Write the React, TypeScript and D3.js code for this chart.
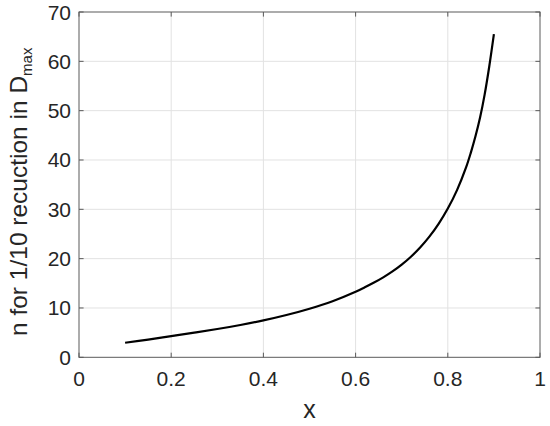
import React from "react";
import * as d3 from "d3";

const xValues = [0.1, 0.15, 0.2, 0.25, 0.3, 0.35, 0.4, 0.45, 0.5, 0.55, 0.6, 0.62, 0.64, 0.66, 0.68, 0.7, 0.72, 0.74, 0.76, 0.78, 0.8, 0.82, 0.84, 0.85, 0.86, 0.87, 0.88, 0.89, 0.9];
const nValues = [2.95, 3.6, 4.3, 5.0, 5.73, 6.55, 7.48, 8.57, 9.85, 11.38, 13.3, 14.2, 15.15, 16.2, 17.4, 18.78, 20.38, 22.25, 24.45, 27.05, 30.15, 33.9, 38.6, 41.5, 44.8, 48.6, 53.3, 59.0, 65.5];
const xTicks = [0, 0.2, 0.4, 0.6, 0.8, 1];
const xTickLabels = ["0", "0.2", "0.4", "0.6", "0.8", "1"];
const yTicks = [0, 10, 20, 30, 40, 50, 60, 70];
const yTickLabels = ["0", "10", "20", "30", "40", "50", "60", "70"];

export default function App() {
  const W = 550, H = 426;
  const left = 79, right = 540, top = 12, bottom = 357.3;
  const x = d3.scaleLinear().domain([0, 1]).range([left, right]);
  const y = d3.scaleLinear().domain([0, 70]).range([bottom, top]);
  const pts = xValues.map((v, i) => [v, nValues[i]] as [number, number]);
  const line = d3.line<[number, number]>().x(d => x(d[0])).y(d => y(d[1])).curve(d3.curveCatmullRom.alpha(0.5));
  const font = "'Liberation Sans', Arial, Helvetica, sans-serif";
  const gridC = "#e2e2e2";
  const axisC = "#5a5a5a";
  const textC = "#262626";
  const tl = 4.6;
  return (
    <svg width={W} height={H} style={{ position: "absolute", left: 0, top: 0, background: "#fff" }} fontFamily={font}>
      <rect x={0} y={0} width={W} height={H} fill="#fff" />
      {xTicks.slice(1, -1).map(t => (
        <line key={"gx" + t} x1={x(t)} x2={x(t)} y1={top} y2={bottom} stroke={gridC} strokeWidth={1} />
      ))}
      {yTicks.slice(1, -1).map(t => (
        <line key={"gy" + t} x1={left} x2={right} y1={y(t)} y2={y(t)} stroke={gridC} strokeWidth={1} />
      ))}
      <path d={line(pts) || ""} fill="none" stroke="#000" strokeWidth={2.2} strokeLinejoin="round" />
      <rect x={left} y={top} width={right - left} height={bottom - top} fill="none" stroke={axisC} strokeWidth={1} />
      {xTicks.map(t => (
        <g key={"tx" + t}>
          <line x1={x(t)} x2={x(t)} y1={bottom} y2={bottom - tl} stroke={axisC} />
          <line x1={x(t)} x2={x(t)} y1={top} y2={top + tl} stroke={axisC} />
        </g>
      ))}
      {yTicks.map(t => (
        <g key={"ty" + t}>
          <line x1={left} x2={left + tl} y1={y(t)} y2={y(t)} stroke={axisC} />
          <line x1={right} x2={right - tl} y1={y(t)} y2={y(t)} stroke={axisC} />
        </g>
      ))}
      {xTicks.map((t, i) => (
        <text key={"lx" + t} x={x(t)} y={386} textAnchor="middle" fontSize={21} fill={textC}>{xTickLabels[i]}</text>
      ))}
      {yTicks.map((t, i) => (
        <text key={"ly" + t} x={71} y={y(t) + 7.5} textAnchor="end" fontSize={21} fill={textC}>{yTickLabels[i]}</text>
      ))}
      <text x={(left + right) / 2} y={418} textAnchor="middle" fontSize={25} fill={textC}>x</text>
      <text transform="translate(27,336) rotate(-90)" fontSize={24.5} fill={textC}>
        n for 1/10 recuction in D<tspan dy={5} fontSize={15}>max</tspan>
      </text>
    </svg>
  );
}
